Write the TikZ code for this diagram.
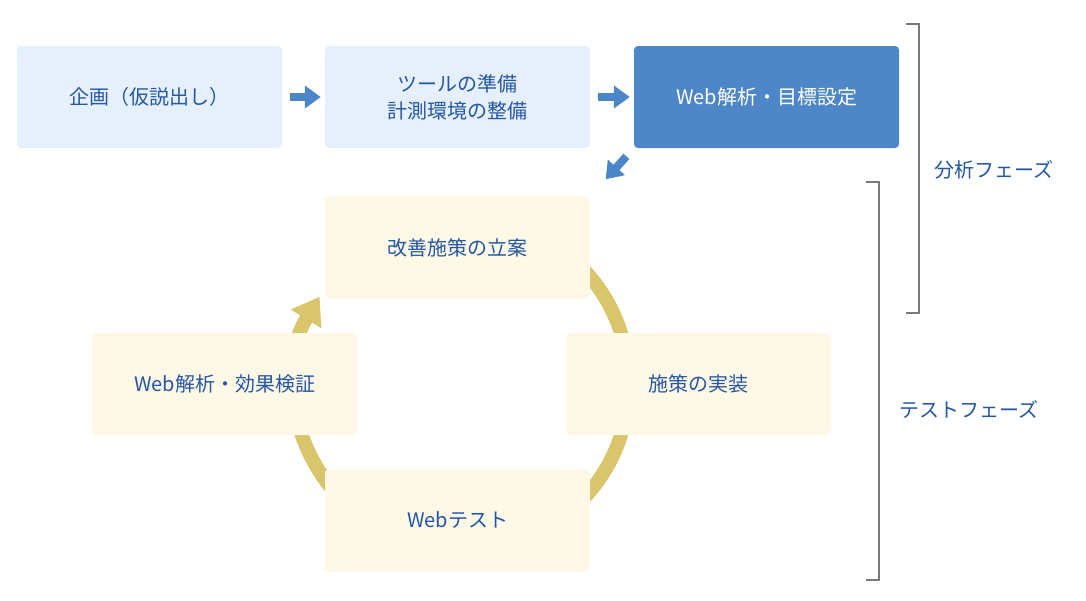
\documentclass[tikz,border=0pt]{standalone}
\usepackage{fontspec}
\setmainfont{Noto Sans CJK JP}
\usetikzlibrary{arrows.meta}
\definecolor{bleuclair}{HTML}{E5F0FC}
\definecolor{bleufonce}{HTML}{4D87C8}
\definecolor{bleufleche}{HTML}{4A86C8}
\definecolor{bleutexte}{HTML}{2457A6}
\definecolor{creme}{HTML}{FEF9E6}
\definecolor{ocre}{HTML}{D9C56B}
\definecolor{gris}{HTML}{7A7A7A}
\begin{document}
\begin{tikzpicture}[x=1pt,y=-1pt]
% Styles
\tikzstyle{texte}=[text=bleutexte,font=\fontsize{20}{27}\selectfont,align=center]
\tikzstyle{etape}=[texte,minimum width=265pt,minimum height=102pt,rounded corners=4pt,inner sep=0pt]
\tikzstyle{analyse}=[etape,fill=bleuclair]
\tikzstyle{test}=[etape,fill=creme]
\tikzstyle{fleche}=[-{Triangle[length=16pt,width=22pt]},line width=8pt,bleufleche]
\tikzstyle{cycle}=[-{Triangle[length=26pt,width=34pt]},line width=14pt,ocre]
\tikzstyle{accolade}=[line width=1.2pt,gris]
% Dimensions Modifiables
\def\Cx{462}
\def\Cy{384}
\def\Rayon{167}
% Cadre
\fill[white] (0,0) rectangle (1086,600);
\useasboundingbox (0,0) rectangle (1086,600);
% Cycle de test
\draw[cycle] (\Cx,\Cy) ++(220:\Rayon) arc[start angle=220,end angle=571.5,radius=\Rayon];
% Phase d'analyse
\node[analyse] (planif) at (149.5,97) {企画（仮説出し）};
\node[analyse] (outils) at (457.5,97) {ツールの準備\\計測環境の整備};
\node[etape,fill=bleufonce,text=white] (objectifs) at (766.5,97) {Web解析・目標設定};
% Phase de test
\node[test] (idees) at (457.5,247.5) {改善施策の立案};
\node[test] (mise) at (698.5,384) {施策の実装};
\node[test] (essai) at (457.5,520.5) {Webテスト};
\node[test] (bilan) at (224.5,384) {Web解析・効果検証};
% Fleches
\draw[fleche,shorten <=8pt,shorten >=4pt] (planif) -- (outils);
\draw[fleche,shorten <=8pt,shorten >=4pt] (outils) -- (objectifs);
\draw[fleche,shorten <=11pt,shorten >=23pt] (objectifs.south west) -- (idees.north east);
% Accolades
\draw[accolade] (906,24) -- (919,24) -- (919,313) -- (906,313);
\draw[accolade] (866,182) -- (879,182) -- (879,580) -- (866,580);
\node[texte] (phaseanalyse) at (994,170) {分析フェーズ};
\node[texte] (phasetest) at (969,409) {テストフェーズ};
\end{tikzpicture}
\end{document}
